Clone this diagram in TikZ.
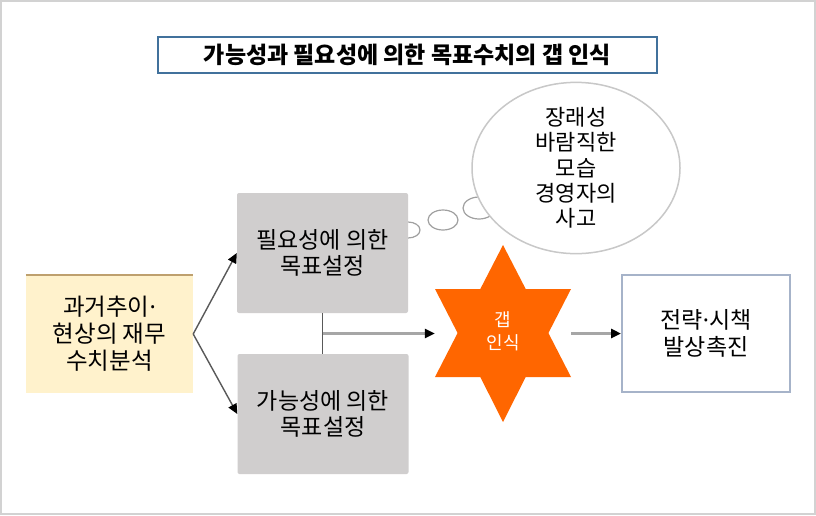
\documentclass[tikz,border=0pt]{standalone}
\usepackage{fontspec}
\setmainfont{Noto Sans CJK KR}
\newfontfamily\latinfont{Noto Sans}
\newcommand{\mdot}{{\latinfont ·}}
\usetikzlibrary{arrows.meta,calc,shapes.geometric}
\definecolor{boxgray}{RGB}{208,206,206}
\definecolor{paleyellow}{RGB}{255,242,204}
\definecolor{tan}{RGB}{190,160,110}
\definecolor{titleblue}{RGB}{65,113,156}
\definecolor{stratblue}{RGB}{166,179,201}
\definecolor{orangestar}{RGB}{255,102,0}
\definecolor{linegray}{RGB}{89,89,89}
\definecolor{arrowgray}{RGB}{166,166,166}
\definecolor{framegray}{RGB}{210,210,210}
\definecolor{bubblegray}{RGB}{200,200,200}
\tikzset{
  graybox/.style={fill=boxgray, rounded corners=2pt, minimum width=171pt, minimum height=120pt, inner sep=0pt, align=center, font=\fontsize{23}{26}\selectfont},
  tip/.style={-{Triangle[length=10pt,width=9pt,color=black]}},
  diag/.style={draw=linegray, line width=1.4pt, tip},
  thick arrow/.style={draw=arrowgray, line width=3pt, tip},
  bubble/.style={draw=bubblegray!80!black, line width=1.2pt, fill=white},
}
\begin{document}
\begin{tikzpicture}[x=1pt,y=-1pt]
\useasboundingbox (0,0) rectangle (816,515);
\fill[white] (0,0) rectangle (816,515);
\draw[framegray, line width=1.5pt] (1,1) rectangle (815,514);

% title
\node[draw=titleblue, line width=2pt, minimum width=499pt, minimum height=36pt, inner sep=0pt,
      font=\fontsize{23}{24}\selectfont\bfseries] (title) at (407.5,55) {가능성과 필요성에 의한 목표수치의 갭 인식};

% thought bubbles
\draw[bubble] (408,230) ellipse [x radius=12, y radius=8];
\draw[bubble] (443,220) ellipse [x radius=15, y radius=10];
\draw[bubble] (479,208) ellipse [x radius=16, y radius=11];

% historical analysis box
\node[fill=paleyellow, minimum width=167pt, minimum height=118pt, inner sep=0pt, align=center,
      font=\fontsize{23.5}{27}\selectfont] (hist) at (109.5,334) {과거추이\mdot\\현상의 재무\\수치분석};
\draw[tan, line width=1.5pt] (hist.north west) -- (hist.north east);

% gray boxes
\node[graybox] (need) at (322.5,253) {필요성에 의한\\목표설정};
\node[graybox] (poss) at (323,414) {가능성에 의한\\목표설정};

% thought ellipse
\node[draw=bubblegray, line width=1.5pt, fill=white, ellipse, minimum width=208pt, minimum height=156pt, inner sep=0pt,
      align=center, font=\fontsize{22}{25.3}\selectfont] (thought) at (576,168) {장래성\\바람직한\\모습\\경영자의\\사고};

% gap star
\node[minimum width=136pt, minimum height=177pt, inner sep=0pt] (gap) at (503,333.5) {};
\fill[orangestar] (503,245) -- (525.7,289) -- (571,289) -- (548.4,333) -- (571,377) -- (525.7,377)
  -- (503,422) -- (480.3,377) -- (435,377) -- (457.6,333) -- (435,289) -- (480.3,289) -- cycle;
\node[text=white, align=center, font=\fontsize{18}{23}\selectfont] (gaptext) at (503,331) {갭\\인식};

% strategy box
\node[draw=stratblue, line width=2pt, fill=white, minimum width=168pt, minimum height=117pt, inner sep=0pt,
      align=center, font=\fontsize{23}{27}\selectfont] (strat) at (706,333.5) {전략\mdot 시책\\발상촉진};

% connectors
\draw[diag] (hist.east) -- (need.west);
\draw[diag] (hist.east) -- (poss.west);
\coordinate (split) at (need.south |- gap.west);
\draw[linegray, line width=1.4pt] (need.south) -- (need.south |- poss.north);
\draw[thick arrow] (split) -- (gap.west);
\draw[thick arrow] (gap.east) -- (strat.west);
\end{tikzpicture}
\end{document}
